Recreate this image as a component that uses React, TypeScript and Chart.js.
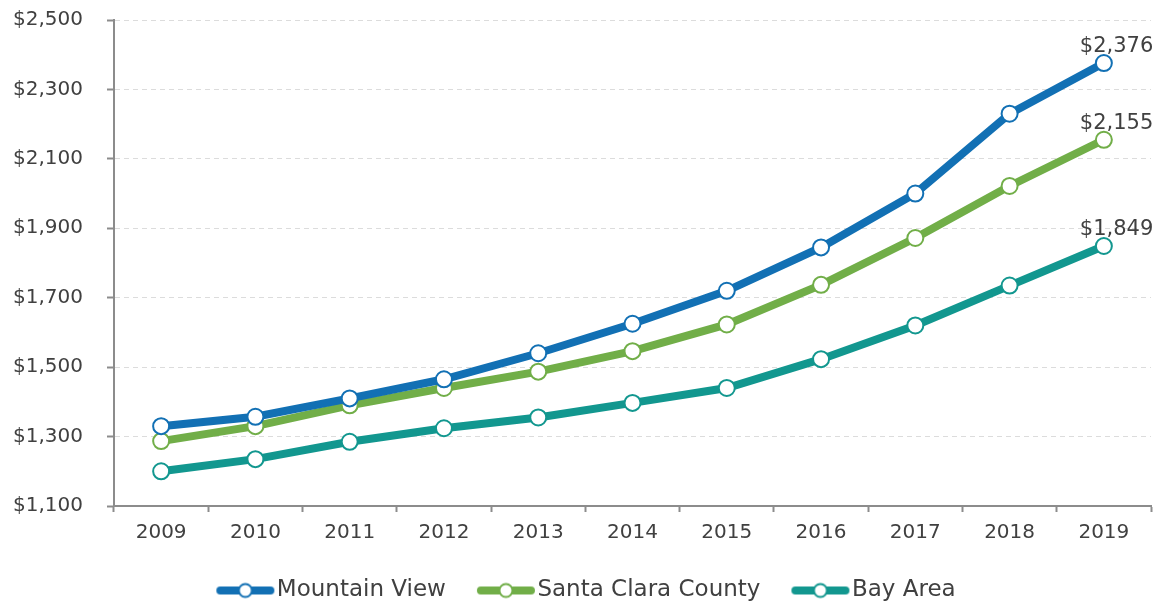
import React, { useEffect, useRef } from 'react';
import { Chart, registerables } from 'chart.js';

Chart.register(...registerables);

const years = ['2009', '2010', '2011', '2012', '2013', '2014', '2015', '2016', '2017', '2018', '2019'];
const mountainView = [1330, 1357, 1410, 1465, 1540, 1625, 1720, 1845, 2000, 2230, 2376];
const santaClara = [1287, 1330, 1390, 1440, 1487, 1546, 1623, 1737, 1872, 2022, 2155];
const bayArea = [1200, 1235, 1285, 1324, 1355, 1397, 1440, 1523, 1620, 1735, 1849];
const seriesNames = ['Mountain View', 'Santa Clara County', 'Bay Area'];
const seriesColors = ['#1270B4', '#71AE48', '#12978F'];
const yMin = 1100;
const yMax = 2500;
const yStep = 200;

const FONT = 'DejaVu Sans';
const TEXT = '#404040';
const AXIS = '#8c8c8c';

function makeMarker(color: string): HTMLCanvasElement {
  const c = document.createElement('canvas');
  c.width = 60;
  c.height = 18;
  const ctx = c.getContext('2d')!;
  ctx.strokeStyle = color;
  ctx.lineWidth = 8;
  ctx.lineCap = 'round';
  ctx.beginPath();
  ctx.moveTo(5, 9);
  ctx.lineTo(55, 9);
  ctx.stroke();
  ctx.beginPath();
  ctx.arc(30, 9, 6.5, 0, Math.PI * 2);
  ctx.fillStyle = '#ffffff';
  ctx.fill();
  ctx.lineWidth = 2;
  ctx.stroke();
  return c;
}

const endLabels = {
  id: 'endLabels',
  afterDatasetsDraw(chart: any) {
    const ctx = chart.ctx;
    ctx.save();
    ctx.font = `21px "${FONT}"`;
    ctx.fillStyle = TEXT;
    ctx.textAlign = 'left';
    ctx.textBaseline = 'alphabetic';
    chart.data.datasets.forEach((ds: any, i: number) => {
      const meta = chart.getDatasetMeta(i);
      const last = meta.data[meta.data.length - 1];
      const v = ds.data[ds.data.length - 1];
      ctx.fillText('$' + v.toLocaleString('en-US'), last.x - 24, last.y - 11);
    });
    ctx.restore();
  },
};

const legendShift = {
  id: 'legendShift',
  afterLayout(chart: any) {
    const lg = chart.legend;
    if (lg) {
      lg.left += 15;
      lg.right += 15;
    }
  },
};

export default function App() {
  const ref = useRef<HTMLCanvasElement>(null);

  useEffect(() => {
    if (!ref.current) return;
    const seriesData = [mountainView, santaClara, bayArea];
    const markers = seriesColors.map(makeMarker);
    const chart = new Chart(ref.current, {
      type: 'line',
      data: {
        labels: years,
        datasets: seriesData.map((d, i) => ({
          label: seriesNames[i],
          data: d,
          borderColor: seriesColors[i],
          backgroundColor: '#ffffff',
          borderWidth: 8,
          pointRadius: 8,
          pointBorderWidth: 2,
          pointBackgroundColor: '#ffffff',
          pointBorderColor: seriesColors[i],
          tension: 0,
          fill: false,
        })),
      },
      options: {
        animation: false,
        responsive: true,
        maintainAspectRatio: false,
        layout: { autoPadding: false, padding: { top: 20, right: 16, left: 0, bottom: 0 } },
        plugins: {
          tooltip: { enabled: false },
          legend: {
            position: 'bottom',
            labels: {
              usePointStyle: true,
              pointStyleWidth: 40,
              padding: 40,
              color: TEXT,
              font: { family: FONT, size: 23 },
              generateLabels: (ch: any) => {
                const base = (Chart.defaults.plugins.legend.labels as any).generateLabels(ch);
                return base.map((it: any, i: number) => ({ ...it, pointStyle: markers[i] }));
              },
            },
          },
        },
        scales: {
          x: {
            offset: true,
            afterFit: (s: any) => {
              s.height = 33;
              s.paddingLeft = 0;
              s.paddingRight = 0;
            },
            grid: {
              offset: true,
              drawOnChartArea: false,
              drawTicks: true,
              tickLength: 6,
              tickColor: AXIS,
              tickWidth: 2,
            },
            border: { display: true, color: AXIS, width: 2 },
            ticks: {
              color: TEXT,
              font: { family: FONT, size: 20 },
              padding: 9,
              maxRotation: 0,
            },
          },
          y: {
            min: yMin,
            max: yMax,
            afterFit: (s: any) => {
              s.width = 114;
              s.paddingTop = 0;
              s.paddingBottom = 0;
            },
            grid: {
              color: '#dcdcdc',
              lineWidth: 1,
              drawTicks: true,
              tickLength: 7,
              tickColor: AXIS,
              tickWidth: 2,
              tickBorderDash: [],
            },
            border: { display: true, color: AXIS, width: 2, dash: [5, 4] },
            ticks: {
              stepSize: yStep,
              color: TEXT,
              font: { family: FONT, size: 20 },
              padding: 24,
              callback: (v: any) => '$' + Number(v).toLocaleString('en-US'),
            },
          },
        },
      },
      plugins: [endLabels, legendShift],
    });
    return () => chart.destroy();
  }, []);

  return (
    <div style={{ position: 'fixed', left: 0, top: 0, width: 1167, height: 612, background: '#fff' }}>
      <canvas ref={ref} />
    </div>
  );
}
